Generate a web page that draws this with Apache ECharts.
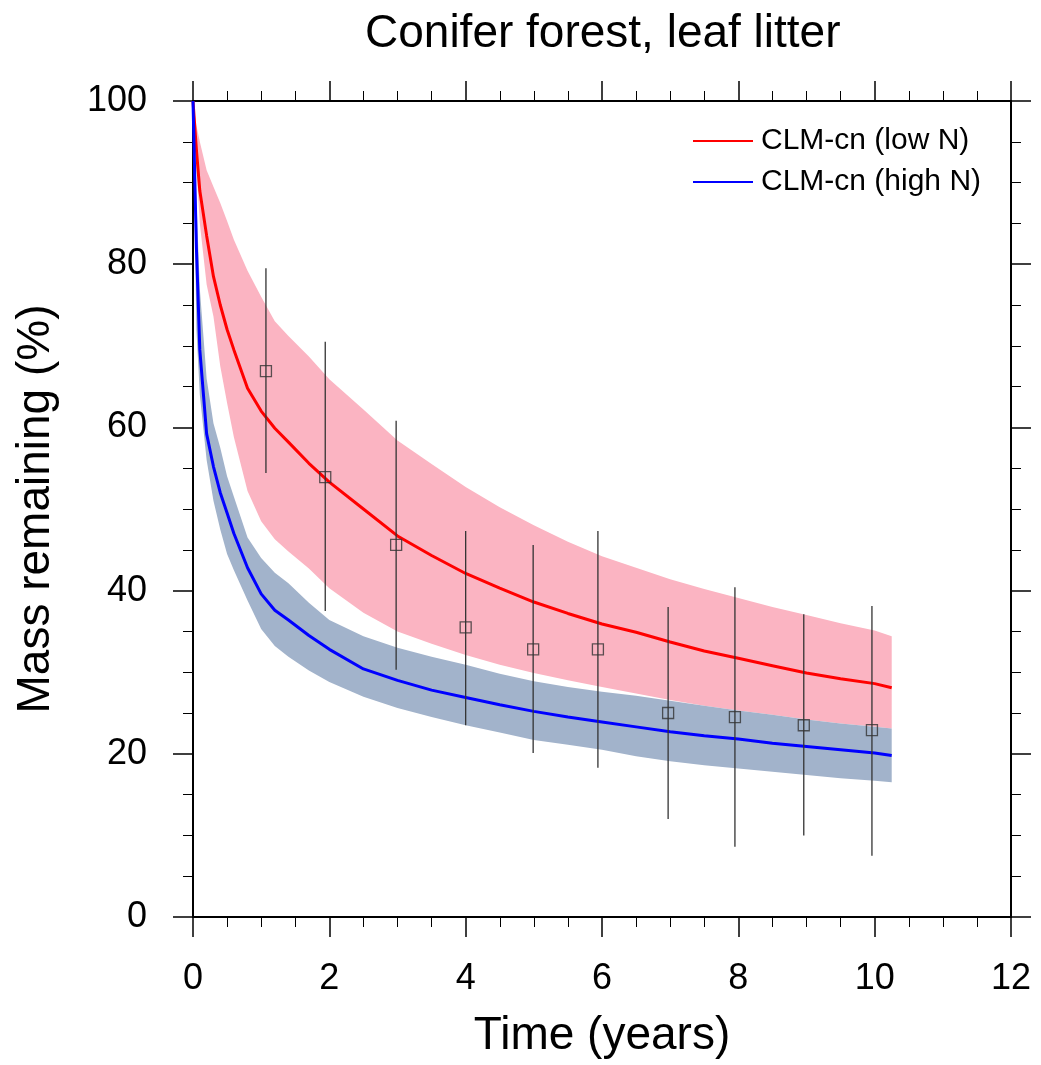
<!DOCTYPE html>
<html>
<head>
<meta charset="utf-8">
<script src="https://cdn.jsdelivr.net/npm/echarts@6/dist/echarts.min.js"></script>
<style>
html,body{margin:0;padding:0;background:#fff;}
#chart{width:1041px;height:1065px;}
</style>
</head>
<body>
<div id="chart"></div>
<script>
// ---- Data ----
const timeGrid = [0, 0.05, 0.1, 0.2, 0.3, 0.4, 0.5, 0.6, 0.8, 1.0, 1.2, 1.4, 1.7, 2.0, 2.5, 3.0, 3.5, 4.0, 4.5, 5.0, 5.5, 6.0, 6.5, 7.0, 7.5, 8.0, 8.5, 9.0, 9.5, 10.0, 10.25];

const lowNMean  = [100, 94, 89, 83.5, 78.5, 75, 72, 69.5, 64.8, 62, 59.9, 58.2, 55.6, 53.3, 50, 46.7, 44.3, 42.1, 40.3, 38.6, 37.2, 35.9, 34.9, 33.7, 32.6, 31.7, 30.8, 29.9, 29.2, 28.6, 28.1];
const lowNUpper = [100, 97, 95, 91.5, 89.5, 87.5, 85.3, 83, 79.2, 76, 73, 71.2, 68.7, 65.9, 62.2, 58.4, 55.5, 52.7, 50.2, 48, 46, 44.2, 42.8, 41.4, 40.2, 39.1, 38, 37, 36, 35.1, 34.4];
const lowNLower = [100, 92, 85, 77.5, 73.6, 67.5, 63, 58.8, 52.2, 48.5, 46.3, 44.8, 42.7, 40.3, 37.3, 35.0, 33.5, 32.1, 30.9, 29.9, 29.0, 28.2, 27.4, 26.6, 25.9, 25.3, 24.8, 24.2, 23.7, 23.3, 23.1];

const highNMean  = [100, 82, 69.5, 59.2, 55.2, 52, 49.5, 47, 42.8, 39.6, 37.6, 36.4, 34.5, 32.8, 30.4, 29.0, 27.8, 26.9, 26.0, 25.2, 24.5, 23.9, 23.3, 22.7, 22.2, 21.8, 21.3, 20.9, 20.5, 20.1, 19.8];
const highNUpper = [100, 88, 77, 66, 60.5, 57.5, 54, 51.5, 46.5, 44, 42.2, 40.9, 38.5, 36.4, 34.4, 33.0, 31.9, 30.9, 29.8, 28.9, 28.2, 27.6, 27.1, 26.5, 25.9, 25.3, 24.8, 24.2, 23.7, 23.3, 23.1];
const highNLower = [100, 72, 64, 56, 51, 47.5, 44.5, 42.5, 38.8, 35.3, 33.2, 31.9, 30.2, 28.8, 27.0, 25.6, 24.5, 23.5, 22.6, 21.7, 21.1, 20.5, 19.7, 19.1, 18.6, 18.2, 17.8, 17.4, 17.0, 16.7, 16.5];

const obsTime = [1.07, 1.94, 2.98, 4.0, 4.99, 5.94, 6.97, 7.95, 8.96, 9.96];
const obsMean = [66.9, 53.9, 45.6, 35.5, 32.8, 32.8, 25.0, 24.5, 23.5, 22.9];
const obsHigh = [79.5, 70.5, 60.8, 47.3, 45.6, 47.3, 38.0, 40.4, 37.1, 38.1];
const obsLow  = [54.4, 37.5, 30.3, 23.5, 20.1, 18.3, 12.0, 8.6, 10.0, 7.5];

const seriesNames = ['CLM-cn (low N)', 'CLM-cn (high N)'];
const titleText = 'Conifer forest, leaf litter';
const xTitle = 'Time (years)';
const yTitle = 'Mass remaining (%)';

// ---- Build ----
const FONT = 'Liberation Sans, Arial, Helvetica, sans-serif';
const zip = (xs, ys) => xs.map((x, i) => [x, ys[i]]);

function bandSeries(upper, lower, color) {
  return {
    type: 'custom',
    xAxisIndex: 0, yAxisIndex: 0,
    data: [[0, 0]],
    silent: true,
    z: 1,
    renderItem: function (params, api) {
      const pts = [];
      for (let i = 0; i < timeGrid.length; i++) pts.push(api.coord([timeGrid[i], upper[i]]));
      for (let i = timeGrid.length - 1; i >= 0; i--) pts.push(api.coord([timeGrid[i], lower[i]]));
      return { type: 'polygon', shape: { points: pts }, style: { fill: color, stroke: null } };
    }
  };
}

function axisCommon(showLabel, margin) {
  return {
    axisLine: { show: true, onZero: false, lineStyle: { color: '#000', width: 2 } },
    axisTick: { show: true, inside: false, length: 20, lineStyle: { color: '#000', width: 1.5 } },
    minorTick: { show: true, splitNumber: 4, length: 10, lineStyle: { color: '#000', width: 1 } },
    splitLine: { show: false },
    minorSplitLine: { show: false },
    axisLabel: { show: showLabel, margin: margin || 8, color: '#000', fontSize: 36, fontFamily: FONT }
  };
}

const xBase = { type: 'value', min: 0, max: 12, interval: 2 };
const yBase = { type: 'value', min: 0, max: 100, interval: 20 };

const option = {
  animation: false,
  backgroundColor: '#fff',
  title: {
    text: titleText,
    left: 360, top: 6,
    textStyle: { fontSize: 46, fontWeight: 'normal', color: '#000', fontFamily: FONT }
  },
  grid: { left: 193, right: 30, top: 101, bottom: 148, containLabel: false },
  legend: {
    data: seriesNames,
    orient: 'vertical',
    left: 688, top: 121,
    icon: 'rect',
    itemWidth: 60, itemHeight: 2,
    itemGap: 11,
    textStyle: { fontSize: 30, color: '#000', fontFamily: FONT, padding: [0, 0, 0, 3] }
  },
  xAxis: [
    Object.assign({}, xBase, axisCommon(true, 44), {
      position: 'bottom',
      name: xTitle, nameLocation: 'middle', nameGap: 96,
      nameTextStyle: { fontSize: 46, color: '#000', fontFamily: FONT }
    }),
    Object.assign({}, xBase, axisCommon(false), { position: 'top' })
  ],
  yAxis: [
    Object.assign({}, yBase, axisCommon(true, 46), {
      position: 'left',
      name: yTitle, nameLocation: 'middle', nameGap: 134,
      nameTextStyle: { fontSize: 46, color: '#000', fontFamily: FONT }
    }),
    Object.assign({}, yBase, axisCommon(false), { position: 'right' })
  ],
  series: [
    bandSeries(lowNUpper, lowNLower, '#FBB4C2'),
    bandSeries(highNUpper, highNLower, '#A2B3CB'),
    {
      name: seriesNames[0], type: 'line', xAxisIndex: 0, yAxisIndex: 0,
      data: zip(timeGrid, lowNMean), symbol: 'none', z: 3,
      color: '#FF0000', lineStyle: { color: '#FF0000', width: 3 }
    },
    {
      name: seriesNames[1], type: 'line', xAxisIndex: 0, yAxisIndex: 0,
      data: zip(timeGrid, highNMean), symbol: 'none', z: 3,
      color: '#0000FF', lineStyle: { color: '#0000FF', width: 3 }
    },
    {
      type: 'custom', xAxisIndex: 0, yAxisIndex: 0, z: 4, silent: true,
      data: obsTime.map((t, i) => [t, obsLow[i], obsHigh[i]]),
      renderItem: function (params, api) {
        const p1 = api.coord([api.value(0), api.value(1)]);
        const p2 = api.coord([api.value(0), api.value(2)]);
        return { type: 'line', shape: { x1: p1[0], y1: p1[1], x2: p2[0], y2: p2[1] },
                 style: { stroke: '#333', lineWidth: 1.3 } };
      }
    },
    {
      type: 'scatter', xAxisIndex: 0, yAxisIndex: 0, z: 5, silent: true,
      data: zip(obsTime, obsMean),
      symbol: 'rect', symbolSize: 11,
      itemStyle: { color: 'rgba(0,0,0,0)', borderColor: '#333', borderWidth: 1.3 }
    }
  ]
};

const chart = echarts.init(document.getElementById('chart'), null, { renderer: 'canvas' });
chart.setOption(option);
</script>
</body>
</html>
